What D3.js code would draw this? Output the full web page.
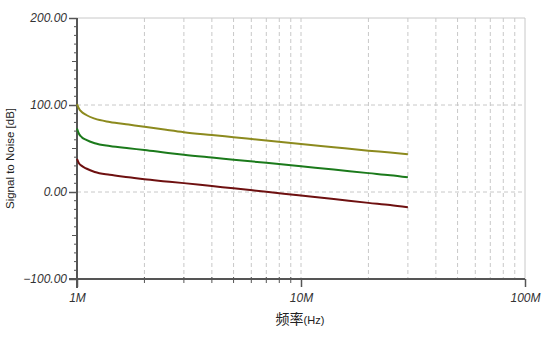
<!DOCTYPE html>
<html>
<head>
<meta charset="utf-8">
<script src="https://cdn.jsdelivr.net/npm/d3@7"></script>
<style>
  body { margin: 0; background: #fff; }
  text { font-family: "Liberation Sans", Arial, sans-serif; }
</style>
</head>
<body>
<script>
// frequencies in MHz and the three SNR traces (dB)
const freqMHz = [1, 1.02, 1.05, 1.1, 1.2, 1.4, 1.7, 2, 2.5, 3, 4, 5, 7, 10, 14, 20, 25, 30];
const oliveSnr = [101, 96, 92, 88.5, 84.3, 80.5, 77.5, 75, 71.5, 68.8, 65.5, 63, 59.2, 55.3, 51.5, 47.5, 45.3, 43.3];
const greenSnr = [73, 67, 63, 59.8, 56, 52.8, 50.2, 48.3, 45.2, 42.8, 39.6, 37.2, 33.5, 29.5, 25.8, 21.7, 19.3, 16.9];
const redSnr = [38, 33, 30, 27, 23, 19.8, 17, 14.6, 12.2, 10.2, 6.8, 4.2, 0.2, -4, -8, -12.5, -15, -17.6];
const yTicks = [200, 100, 0, -100];
const xTickLabels = ["1M", "10M", "100M"];

const width = 550, height = 337;
const mLeft = 77, mRight = 525, mTop = 18, mBottom = 279;

const svg = d3.select("body").append("svg")
  .attr("width", width)
  .attr("height", height);

const x = d3.scaleLog().domain([1e6, 1e8]).range([mLeft, mRight]);
const y = d3.scaleLinear().domain([-100, 200]).range([mBottom, mTop]);

// minor frequencies for grid
const minorF = [];
for (let dec = 1e6; dec < 1e8; dec *= 10) {
  for (let k = 2; k <= 10; k++) minorF.push(dec * k);
}

// vertical grid
svg.append("g").selectAll("line")
  .data(minorF.filter(f => f < 1e8))
  .join("line")
  .attr("x1", d => x(d)).attr("x2", d => x(d))
  .attr("y1", mTop).attr("y2", mBottom)
  .attr("stroke", "#c8c8c8")
  .attr("stroke-dasharray", "4,3");

// horizontal grid
svg.append("g").selectAll("line")
  .data([100, 0])
  .join("line")
  .attr("x1", mLeft).attr("x2", mRight)
  .attr("y1", d => y(d)).attr("y2", d => y(d))
  .attr("stroke", "#c8c8c8")
  .attr("stroke-dasharray", "4,3");

// top & right frame
svg.append("line").attr("x1", mLeft).attr("x2", mRight).attr("y1", mTop).attr("y2", mTop)
  .attr("stroke", "#c8c8c8");
svg.append("line").attr("x1", mRight).attr("x2", mRight).attr("y1", mTop).attr("y2", mBottom)
  .attr("stroke", "#c8c8c8");

// y axis with minor ticks
const yMinor = d3.range(-100, 201, 10).filter(v => v % 100 !== 0);
svg.append("g").selectAll("line")
  .data(yMinor)
  .join("line")
  .attr("x1", d => d % 50 === 0 ? mLeft - 5 : mLeft - 3).attr("x2", mLeft)
  .attr("y1", d => y(d)).attr("y2", d => y(d))
  .attr("stroke", "#555");

const yAxis = svg.append("g")
  .attr("transform", `translate(${mLeft},0)`)
  .call(d3.axisLeft(y).tickValues(yTicks).tickSize(8).tickFormat(d3.format(".2f")));
yAxis.select(".domain").attr("stroke", "#555").attr("stroke-width", 2)
  .attr("d", `M0,${mTop}V${mBottom + 9}`);
yAxis.selectAll(".tick line").attr("stroke", "#555").attr("stroke-width", 1.5);
yAxis.selectAll(".tick text")
  .attr("x", -10)
  .attr("font-size", 12)
  .attr("font-style", "italic")
  .attr("fill", "#333")
  .attr("font-family", "Liberation Sans, Arial, sans-serif");

// x axis with minor ticks
svg.append("g").selectAll("line")
  .data(minorF.filter(f => f % 1e7 !== 0 && f < 1e8))
  .join("line")
  .attr("x1", d => x(d)).attr("x2", d => x(d))
  .attr("y1", mBottom - 2).attr("y2", mBottom + 4)
  .attr("stroke", "#555");

const xAxis = svg.append("g")
  .attr("transform", `translate(0,${mBottom})`)
  .call(d3.axisBottom(x).tickValues([1e6, 1e7, 1e8]).tickSize(8)
    .tickFormat((d, i) => xTickLabels[i]));
xAxis.select(".domain").attr("stroke", "#555").attr("stroke-width", 2)
  .attr("d", `M${mLeft - 8},0H${mRight}`);
xAxis.selectAll(".tick line").attr("stroke", "#555").attr("stroke-width", 1.5);
xAxis.selectAll(".tick text")
  .attr("y", 14)
  .attr("font-size", 12)
  .attr("font-style", "italic")
  .attr("fill", "#333")
  .attr("font-family", "Liberation Sans, Arial, sans-serif");

// traces
const series = [
  { values: oliveSnr, color: "#8c8a1e" },
  { values: greenSnr, color: "#1b7a1b" },
  { values: redSnr, color: "#6e1010" }
];
const line = d3.line()
  .x((d, i) => x(freqMHz[i] * 1e6))
  .y(d => y(d))
  .curve(d3.curveMonotoneX);

svg.append("g").selectAll("path")
  .data(series)
  .join("path")
  .attr("d", d => line(d.values))
  .attr("fill", "none")
  .attr("stroke", d => d.color)
  .attr("stroke-width", 2);

// titles
svg.append("text")
  .attr("transform", `translate(14,${(mTop + mBottom) / 2 + 10}) rotate(-90)`)
  .attr("text-anchor", "middle")
  .attr("font-size", 11.5)
  .attr("fill", "#222")
  .text("Signal to Noise [dB]");

const xt = svg.append("text")
  .attr("x", 300)
  .attr("y", 324)
  .attr("text-anchor", "middle")
  .attr("fill", "#222");
xt.append("tspan")
  .attr("font-size", 14)
  .attr("font-family", "Noto Sans CJK SC, sans-serif")
  .text("频率");
xt.append("tspan")
  .attr("font-size", 11)
  .text("(Hz)");
</script>
</body>
</html>
